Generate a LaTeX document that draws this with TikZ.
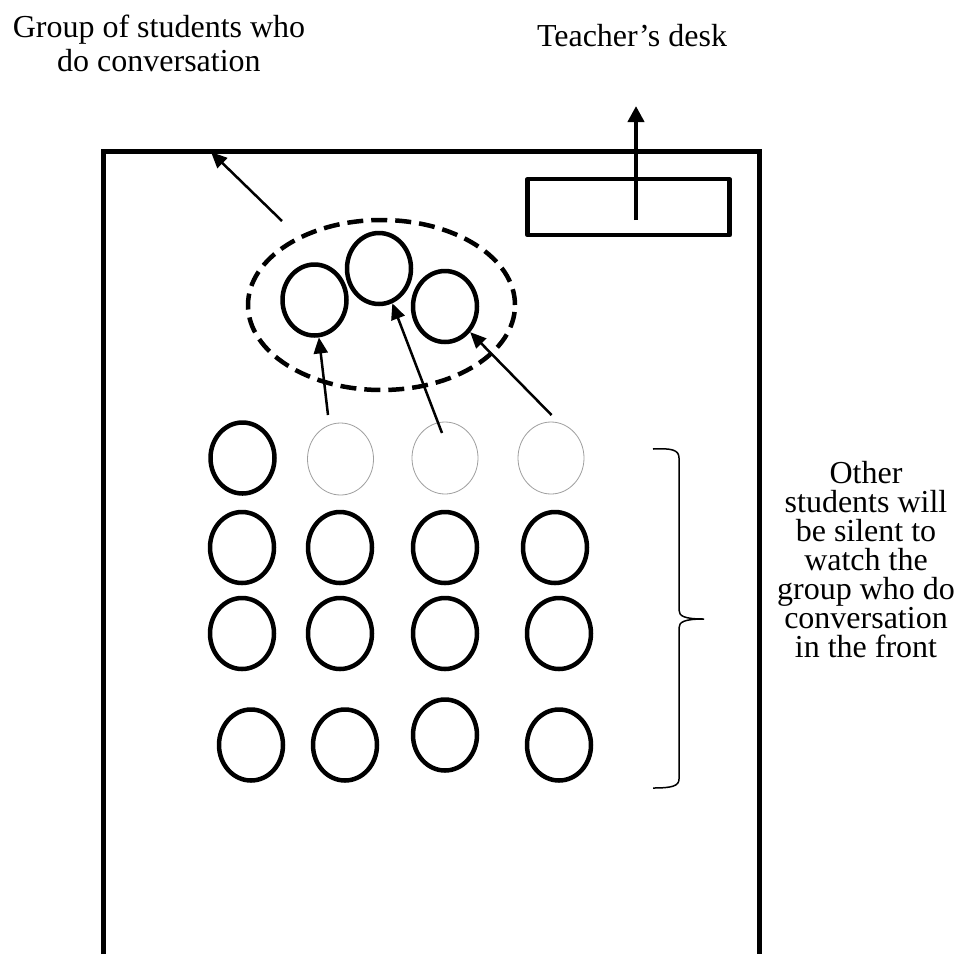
\documentclass[tikz,border=0pt]{standalone}
\usepackage{fontspec}
\setmainfont{Liberation Serif}
\usetikzlibrary{arrows.meta,shapes.geometric}
\begin{document}
\begin{tikzpicture}[x=1pt,y=-1pt,
  wall/.style={line width=4.5pt},
  seat/.style={draw, ellipse, line width=4.5pt, minimum width=64pt, minimum height=71pt, inner sep=0pt},
  ghost/.style={draw=gray!75, ellipse, line width=0.8pt, minimum width=66pt, minimum height=72pt, inner sep=0pt},
  arr/.style={line width=2.5pt, -{Triangle[length=16pt,width=14pt]}},
  lbl/.style={font=\fontsize{32}{34}\selectfont, align=center, inner sep=0pt}]
\useasboundingbox (0,0) rectangle (966,954);
% room
\draw[wall, line join=miter] (103.5,954) -- (103.5,151.5) -- (759.5,151.5) -- (759.5,954);
% desk
\node[draw, wall, line join=round, minimum width=202pt, minimum height=56pt, inner sep=0pt] (desk) at (628.6,207.2) {};
% group ellipse
\node[draw, ellipse, line width=4.5pt, dash pattern=on 16pt off 8pt, minimum width=267pt, minimum height=170pt, inner sep=0pt] (grp) at (381.5,305) {};
% group seats
\node[seat] (g1) at (314.5,300) {};
\node[seat] (g2) at (379,268.5) {};
\node[seat] (g3) at (445,306.5) {};
% grid seats
\node[seat]  (s11) at (242.5,458) {};
\node[ghost] (s12) at (340.5,459) {};
\node[ghost] (s13) at (445,458) {};
\node[ghost] (s14) at (551,458) {};
\node[seat] (s21) at (242,547.5) {};
\node[seat] (s22) at (340,547.5) {};
\node[seat] (s23) at (445,547.5) {};
\node[seat] (s24) at (555,547.5) {};
\node[seat] (s31) at (242,633.5) {};
\node[seat] (s32) at (340,633.5) {};
\node[seat] (s33) at (445,633.5) {};
\node[seat] (s34) at (559,633.5) {};
\node[seat] (s41) at (251,745) {};
\node[seat] (s42) at (345,745) {};
\node[seat] (s43) at (445,735) {};
\node[seat] (s44) at (559,745) {};
% arrows
\coordinate (a1) at (328,415);
\coordinate (a2) at (442,433);
\coordinate (a3) at (551.5,415);
\draw[arr] (a1) -- (g1);
\draw[arr] (a2) -- (g2);
\draw[arr] (a3) -- (g3);
\coordinate (gs) at (282,221);
\coordinate (rt) at (211,152);
\draw[arr] (gs) -- (rt);
\coordinate (ts) at (636,220);
\coordinate (tt) at (636,106);
\draw[line width=4pt, -{Triangle[length=16pt,width=16pt]}] (ts) -- (tt);
% brace
\draw[line width=1.5pt] (653,449) .. controls (672,448) and (679,450) .. (679,458) -- (679,610)
  .. controls (679,616) and (684,619) .. (704,619)
  .. controls (684,619) and (679,622) .. (679,628) -- (679,779)
  .. controls (679,786) and (672,788) .. (653,788);
% labels
\node[lbl] (glabel) at (159,43) {Group of students who\\do conversation};
\node[lbl, anchor=base] (tlabel) at (632,46) {Teacher’s desk};
\node[lbl, font=\fontsize{32}{29}\selectfont] (olabel) at (866,560) {Other\\students will\\be silent to\\watch the\\group who do\\conversation\\in the front};
\end{tikzpicture}
\end{document}
